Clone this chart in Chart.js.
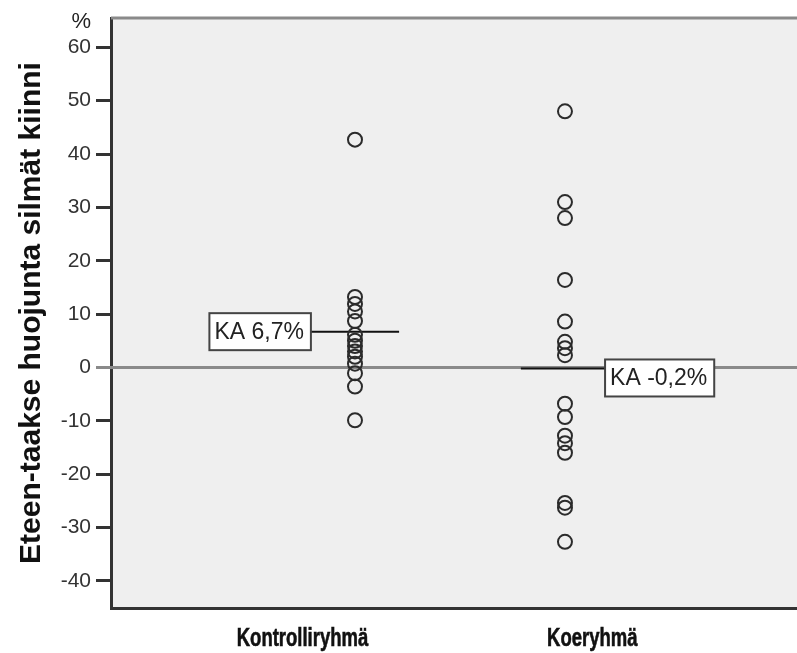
<!DOCTYPE html>
<html>
<head>
<meta charset="utf-8">
<script src="https://cdn.jsdelivr.net/npm/chart.js@4.4.1/dist/chart.umd.min.js"></script>
<style>
  html, body { margin: 0; padding: 0; background: #fff; overflow: hidden; }
  #wrap { width: 797px; height: 653px; }
  canvas { display: block; }
</style>
</head>
<body>
<div id="wrap"><canvas id="chart" width="797" height="653"></canvas></div>
<script>
// ryhmät ja mittaukset (%)
const groups = ["Kontrolliryhmä", "Koeryhmä"];
const groupX = [1, 2];
const groupLabelX = [0.75, 2.13];
const kontrolli = [42.7, 13.2, 11.9, 10.5, 8.7, 6.1, 5.0, 4.0, 3.0, 2.0, 0.7, -1.1, -3.6, -9.9];
const koe = [48.0, 31.0, 28.0, 16.4, 8.6, 4.8, 3.6, 2.3, -6.8, -9.3, -12.8, -14.2, -16.0, -25.4, -26.3, -32.7];
const means = [6.7, -0.2];
const meanLabels = ["KA 6,7%", "KA -0,2%"];
const yTicks = [-40, -30, -20, -10, 0, 10, 20, 30, 40, 50, 60];

const MEAN_HALF = 0.21;
const FONT = "'Liberation Sans', Arial, sans-serif";

const points = [kontrolli, koe].map((vals, i) => vals.map(v => ({ x: groupX[i], y: v })));
const meanLines = means.map((m, i) => [
  { x: groupX[i] - MEAN_HALF, y: m },
  { x: groupX[i] + MEAN_HALF, y: m }
]);

// tausta, nollaviiva, yläreuna, KA-laatikot ja ryhmien nimet
const decor = {
  id: "decor",
  beforeDraw(chart) {
    const { ctx, chartArea: a } = chart;
    ctx.save();
    ctx.fillStyle = "#efefef";
    ctx.fillRect(a.left, a.top, a.right - a.left, a.bottom - a.top);
    ctx.restore();
  },
  beforeDatasetsDraw(chart) {
    const { ctx, chartArea: a, scales: { y } } = chart;
    const y0 = y.getPixelForValue(0);
    ctx.save();
    ctx.strokeStyle = "#8a8a8a";
    ctx.lineWidth = 3;
    ctx.beginPath();
    ctx.moveTo(a.left - 15, y0);
    ctx.lineTo(a.right, y0);
    ctx.moveTo(a.left, a.top);
    ctx.lineTo(a.right, a.top);
    ctx.stroke();
    ctx.restore();
  },
  afterDraw(chart) {
    const { ctx, chartArea: a, scales: { x, y } } = chart;
    ctx.save();
    ctx.font = "23px " + FONT;
    ctx.textBaseline = "middle";
    means.forEach((m, i) => {
      const w = ctx.measureText(meanLabels[i]).width + 12;
      const h = 37;
      const ym = y.getPixelForValue(m);
      let bx, by;
      if (i === 0) {
        bx = x.getPixelForValue(groupX[i] - MEAN_HALF) - w;
        by = ym - h / 2;
      } else {
        bx = x.getPixelForValue(groupX[i] + MEAN_HALF) - 4;
        by = ym - 9;
      }
      ctx.fillStyle = "#fff";
      ctx.fillRect(bx, by, w, h);
      ctx.strokeStyle = "#444";
      ctx.lineWidth = 2;
      ctx.strokeRect(bx, by, w, h);
      ctx.fillStyle = "#222";
      ctx.textAlign = "left";
      ctx.fillText(meanLabels[i], bx + 5, by + h / 2 + 1);
    });

    // yksikkö akselin yläpäässä
    ctx.font = "22px " + FONT;
    ctx.fillStyle = "#222";
    ctx.textAlign = "right";
    ctx.textBaseline = "alphabetic";
    ctx.fillText("%", a.left - 20, 28);

    // ryhmien nimet kapealla lihavoidulla kirjaimella
    ctx.font = "bold 25px " + FONT;
    ctx.fillStyle = "#111";
    ctx.strokeStyle = "#111";
    ctx.lineWidth = 0.6;
    ctx.textAlign = "center";
    groups.forEach((g, i) => {
      ctx.save();
      ctx.translate(x.getPixelForValue(groupLabelX[i]), a.bottom + 38);
      ctx.scale(0.74, 1);
      ctx.fillText(g, 0, 0);
      ctx.strokeText(g, 0, 0);
      ctx.restore();
    });
    ctx.restore();
  }
};

new Chart(document.getElementById("chart"), {
  type: "scatter",
  data: {
    datasets: [
      ...points.map(p => ({
        data: p,
        pointRadius: 7,
        pointHoverRadius: 7,
        pointBorderWidth: 2,
        borderColor: "#2b2b2b",
        backgroundColor: "rgba(0,0,0,0)"
      })),
      ...meanLines.map(l => ({
        type: "line",
        data: l,
        borderColor: "#111",
        borderWidth: 2,
        pointRadius: 0
      }))
    ]
  },
  options: {
    responsive: false,
    animation: false,
    events: [],
    layout: { autoPadding: false, padding: { top: 18, right: 0, left: 0, bottom: 0 } },
    plugins: { legend: { display: false }, tooltip: { enabled: false } },
    scales: {
      x: {
        type: "linear",
        min: -0.162,
        max: 3.105,
        afterFit: s => { s.height = 45; s.paddingLeft = 0; s.paddingRight = 0; },
        grid: { display: false, drawTicks: false },
        border: { display: true, color: "#333", width: 3 },
        ticks: { display: false }
      },
      y: {
        min: -45.1,
        max: 65.5,
        afterFit: s => { s.width = 111; },
        afterBuildTicks: s => { s.ticks = yTicks.map(v => ({ value: v })); },
        grid: { drawOnChartArea: false, drawTicks: true, tickLength: 15, lineWidth: 3, tickWidth: 3, tickColor: "#333" },
        border: { display: true, color: "#333", width: 3 },
        ticks: {
          padding: 5,
          color: "#333",
          font: { family: FONT, size: 21 }
        },
        title: {
          display: true,
          text: "Eteen-taakse huojunta silmät kiinni",
          color: "#111",
          font: { family: FONT, size: 30, weight: "bold" },
          padding: { top: 14, bottom: 0 }
        }
      }
    }
  },
  plugins: [decor]
});
</script>
</body>
</html>
